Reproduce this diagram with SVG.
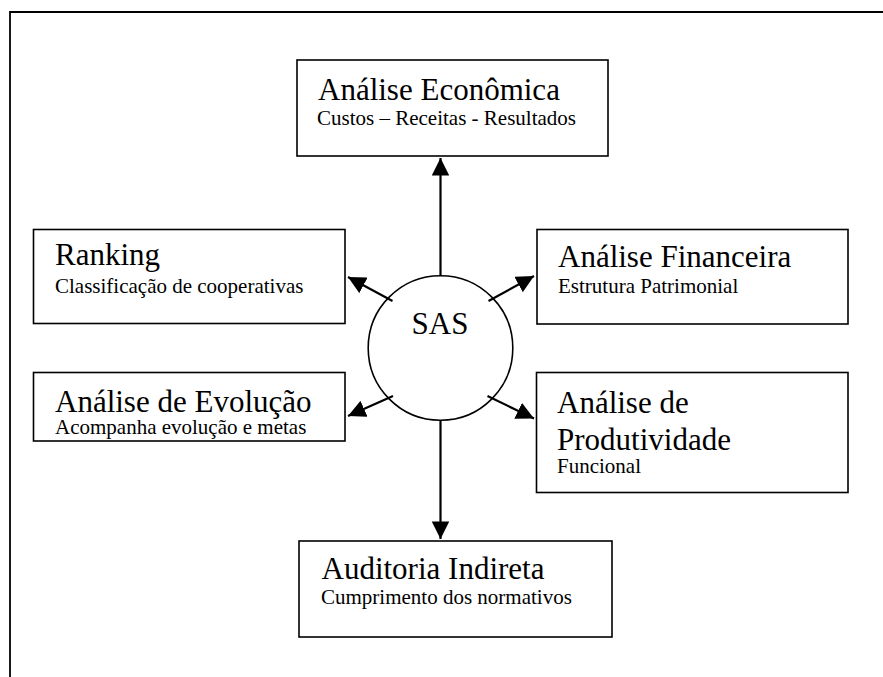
<svg xmlns="http://www.w3.org/2000/svg" width="883" height="677" viewBox="0 0 883 677">
<style>
.box{fill:#fff;stroke:#000;stroke-width:1.6}
.t{font-family:"Liberation Serif","Times New Roman",serif;font-size:31px;fill:#000}
.s{font-family:"Liberation Serif","Times New Roman",serif;font-size:21px;fill:#000}
.c{stroke:#000;stroke-width:2.2;fill:none;marker-end:url(#ah)}
</style>
<defs>
<marker id="ah" markerWidth="8" markerHeight="8" refX="7" refY="3.5" orient="auto" markerUnits="strokeWidth" viewBox="0 0 7 7">
<path d="M0,0 L7,3.5 L0,7 Z" fill="#000"/>
</marker>
</defs>
<rect width="883" height="677" fill="#fff"/>
<g id="frame">
<path d="M10,677 V12 H883" fill="none" stroke="#000" stroke-width="1.8"/>
</g>
<g id="connectors">
<line class="c" x1="440.5" y1="276" x2="440.5" y2="158"/>
<line class="c" x1="440.5" y1="420" x2="440.5" y2="539"/>
<line class="c" x1="392.5" y1="301" x2="348" y2="277"/>
<line class="c" x1="488.5" y1="301" x2="534" y2="276"/>
<line class="c" x1="393" y1="396" x2="348" y2="416"/>
<line class="c" x1="487.5" y1="396" x2="534" y2="418.5"/>
</g>
<g id="sas">
<circle cx="440.5" cy="348" r="72.3" fill="none" stroke="#000" stroke-width="1.6"/>
<text class="t" x="440" y="333.5" text-anchor="middle">SAS</text>
</g>
<g id="economica">
<rect class="box" x="297" y="60" width="311" height="96"/>
<text class="t" x="318" y="100">Análise Econômica</text>
<text class="s" x="317" y="125">Custos – Receitas - Resultados</text>
</g>
<g id="ranking">
<rect class="box" x="33.5" y="229.5" width="311.5" height="94"/>
<text class="t" x="55" y="265">Ranking</text>
<text class="s" x="55" y="293">Classificação de cooperativas</text>
</g>
<g id="financeira">
<rect class="box" x="537" y="229.5" width="311" height="94.5"/>
<text class="t" x="558" y="266.5">Análise Financeira</text>
<text class="s" x="558" y="293">Estrutura Patrimonial</text>
</g>
<g id="evolucao">
<rect class="box" x="33.5" y="372.5" width="311.5" height="68.5"/>
<text class="t" x="55" y="411.5">Análise de Evolução</text>
<text class="s" x="55" y="434">Acompanha evolução e metas</text>
</g>
<g id="produtividade">
<rect class="box" x="536.5" y="372.5" width="311.5" height="120"/>
<text class="t" x="557" y="412.5">Análise de</text>
<text class="t" x="557" y="450">Produtividade</text>
<text class="s" x="557" y="473">Funcional</text>
</g>
<g id="auditoria">
<rect class="box" x="299" y="541" width="313" height="96"/>
<text class="t" x="321.5" y="579">Auditoria Indireta</text>
<text class="s" x="321" y="604">Cumprimento dos normativos</text>
</g>
</svg>
